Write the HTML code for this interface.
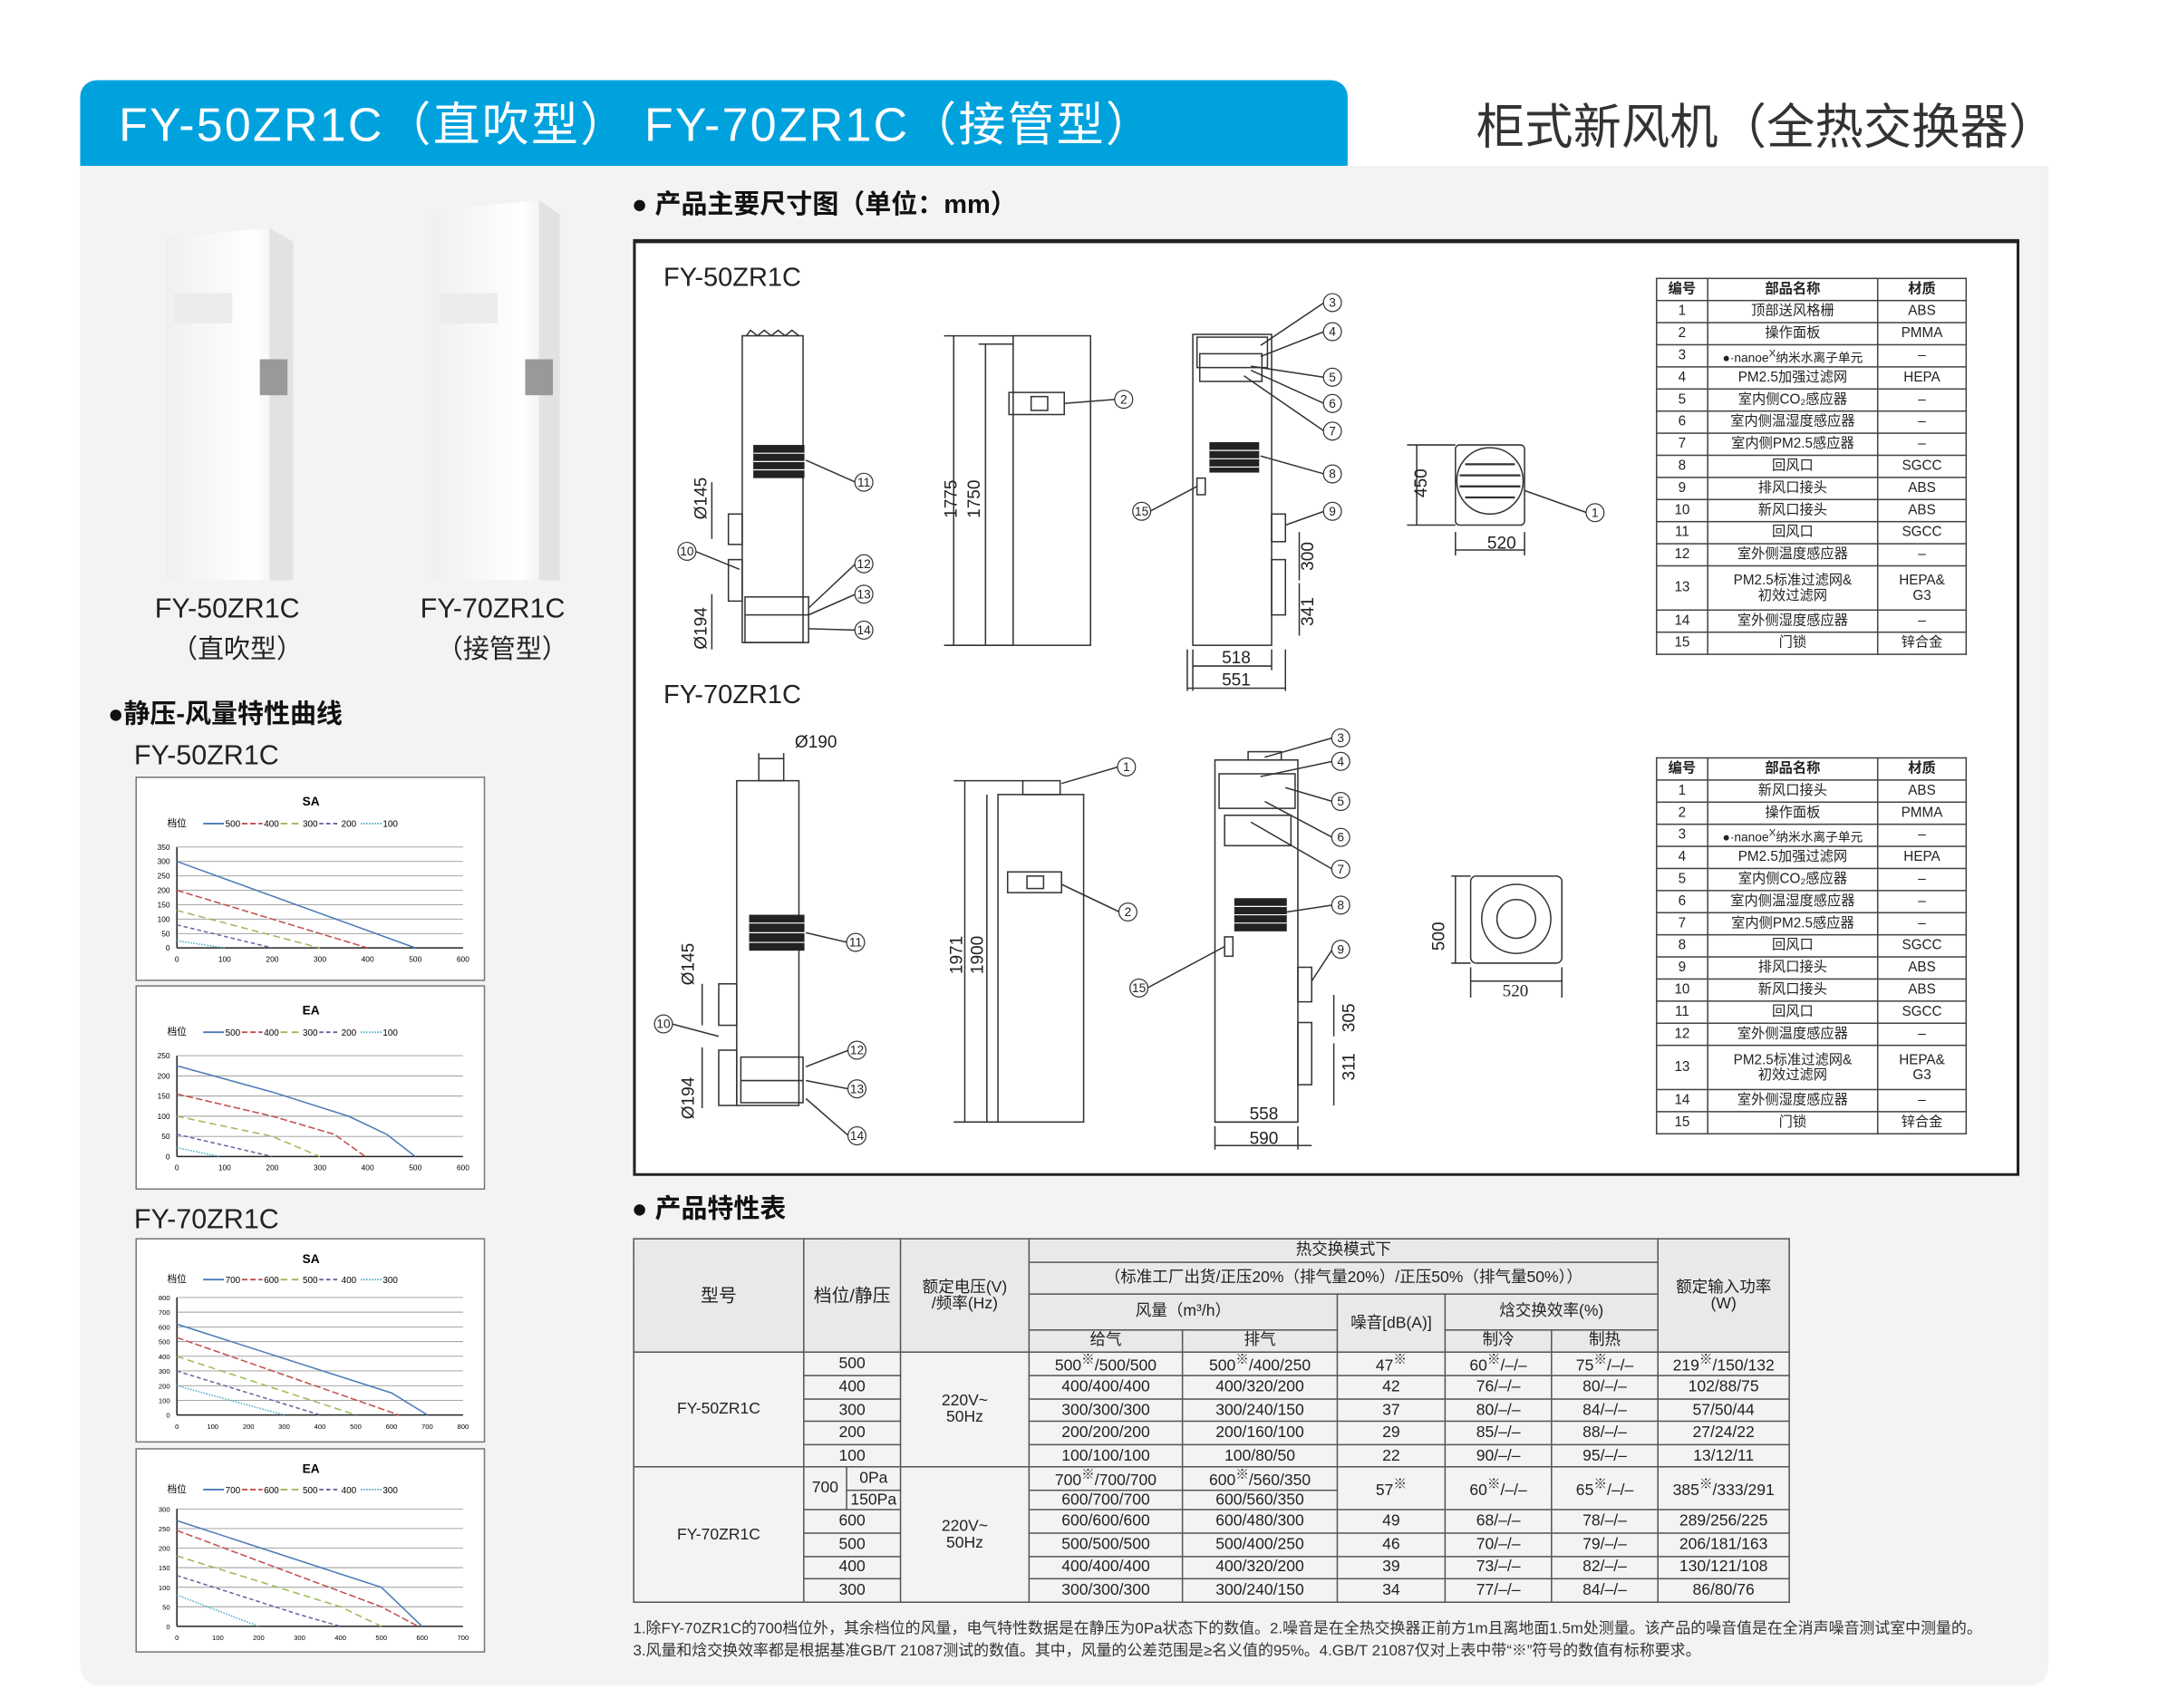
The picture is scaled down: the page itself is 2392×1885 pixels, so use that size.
<!DOCTYPE html>
<html><head><meta charset="utf-8">
<style>
*{margin:0;padding:0;box-sizing:border-box}
body{width:2392px;height:1884px;background:#fff;overflow:hidden;font-family:"Liberation Sans","Noto Sans CJK SC",sans-serif;color:#222}
#w{position:absolute;left:0;top:0;width:1570px;height:1236px;transform:scale(1.525);transform-origin:0 0}
.a{position:absolute;white-space:nowrap}
.hd{left:58px;top:58px;width:917px;height:62px;background:#00a2de;border-radius:12px 12px 0 0}
.bg{left:58px;top:120px;width:1424px;height:1100px;background:#f2f3f4;border-radius:0 0 14px 14px}
.sec{font-weight:bold;font-size:19px;color:#111}
.chart{position:absolute;background:#fff;border:1.5px solid #777}
table{border-collapse:collapse;table-layout:fixed}
.pt{position:absolute;font-size:10px;background:#fff}
.pt td{border:1px solid #444;text-align:center;height:16px;line-height:11px;padding:0}
.ft{position:absolute;left:458px;top:896px;font-size:11.5px}
.ft td{border:1px solid #555;text-align:center;padding:0;line-height:12px}
.ft .h td{background:#e8e9ea}
</style></head><body><div id="w">
<div class="a hd"></div>
<div class="a" style="left:86px;top:63px;font-size:34px;color:#fff;letter-spacing:1.5px">FY-50ZR1C（直吹型） FY-70ZR1C（接管型）</div>
<div class="a" style="left:1068px;top:64px;font-size:35px;color:#333">柜式新风机（全热交换器）</div>
<div class="a bg"></div>

<svg class="a" style="left:100px;top:140px" width="330" height="290">
<defs><linearGradient id="g1" x1="0" x2="1"><stop offset="0" stop-color="#f0f0f0"/><stop offset="0.7" stop-color="#fff"/><stop offset="1" stop-color="#e6e6e6"/></linearGradient></defs>
<polygon points="20,32 95,25 112,35 112,280 20,280" fill="url(#g1)"/>
<polygon points="95,25 112,35 112,280 95,280" fill="#e2e2e2"/>
<rect x="26" y="72" width="42" height="22" fill="#ececec"/>
<rect x="88" y="120" width="20" height="26" fill="#999"/>
<polygon points="212,12 290,5 305,15 305,280 212,280" fill="url(#g1)"/>
<polygon points="290,5 305,15 305,280 290,280" fill="#e2e2e2"/>
<rect x="218" y="72" width="42" height="22" fill="#ececec"/>
<rect x="280" y="120" width="20" height="26" fill="#999"/>
</svg>
<div class="a" style="left:112px;top:430px;font-size:20px">FY-50ZR1C</div>
<div class="a" style="left:124px;top:455px;font-size:19px">（直吹型）</div>
<div class="a" style="left:304px;top:430px;font-size:20px">FY-70ZR1C</div>
<div class="a" style="left:316px;top:455px;font-size:19px">（接管型）</div>

<div class="a sec" style="left:78px;top:502px">●静压-风量特性曲线</div>
<div class="a" style="left:97px;top:536px;font-size:20px">FY-50ZR1C</div>
<div class="a" style="left:97px;top:872px;font-size:20px">FY-70ZR1C</div>

<svg class="chart" style="left:98px;top:562px" width="253" height="148" font-size="5.5" font-family="Liberation Sans,Noto Sans CJK SC,sans-serif">
<text x="126" y="20" font-size="9" font-weight="bold" text-anchor="middle">SA</text>
<text x="22" y="35" font-size="7">档位</text>
<g stroke-width="1.2" fill="none"><line x1="48" y1="33" x2="63" y2="33" stroke="#4a7ab8"/><line x1="76" y1="33" x2="91" y2="33" stroke="#c0504d" stroke-dasharray="4 2"/><line x1="104" y1="33" x2="119" y2="33" stroke="#9bbb59" stroke-dasharray="5 3"/><line x1="132" y1="33" x2="147" y2="33" stroke="#7060a0" stroke-dasharray="3 2"/><line x1="162" y1="33" x2="177" y2="33" stroke="#4bacc6" stroke-dasharray="1 1"/></g>
<g font-size="6.5"><text x="64" y="35.5">500</text><text x="92" y="35.5">400</text><text x="120" y="35.5">300</text><text x="148" y="35.5">200</text><text x="178" y="35.5">100</text></g>
<g stroke="#999" stroke-width="0.6"><line x1="29" y1="50" x2="236" y2="50"/><line x1="29" y1="60.4" x2="236" y2="60.4"/><line x1="29" y1="70.9" x2="236" y2="70.9"/><line x1="29" y1="81.3" x2="236" y2="81.3"/><line x1="29" y1="91.7" x2="236" y2="91.7"/><line x1="29" y1="102.1" x2="236" y2="102.1"/><line x1="29" y1="112.6" x2="236" y2="112.6"/></g>
<line x1="29" y1="123" x2="236" y2="123" stroke="#222"/><line x1="29" y1="50" x2="29" y2="123" stroke="#222"/>
<g text-anchor="end"><text x="24" y="52">350</text><text x="24" y="62.4">300</text><text x="24" y="72.9">250</text><text x="24" y="83.3">200</text><text x="24" y="93.7">150</text><text x="24" y="104.1">100</text><text x="24" y="114.6">50</text><text x="24" y="125">0</text></g>
<g text-anchor="middle"><text x="29" y="133">0</text><text x="63.5" y="133">100</text><text x="98" y="133">200</text><text x="132.5" y="133">300</text><text x="167" y="133">400</text><text x="201.5" y="133">500</text><text x="236" y="133">600</text></g>
<g fill="none" stroke-width="1"><polyline points="29,60.4 201.5,123" stroke="#4a7ab8"/><polyline points="29,81.3 167,123" stroke="#c0504d" stroke-dasharray="5 2"/><polyline points="29,95.9 132.5,123" stroke="#9bbb59" stroke-dasharray="5 3"/><polyline points="29,106.3 98,123" stroke="#7060a0" stroke-dasharray="3 2"/><polyline points="29,117.8 63.5,123" stroke="#4bacc6" stroke-dasharray="1 1"/></g>
</svg>

<svg class="chart" style="left:98px;top:713px" width="253" height="148" font-size="5.5" font-family="Liberation Sans,Noto Sans CJK SC,sans-serif">
<text x="126" y="20" font-size="9" font-weight="bold" text-anchor="middle">EA</text>
<text x="22" y="35" font-size="7">档位</text>
<g stroke-width="1.2" fill="none"><line x1="48" y1="33" x2="63" y2="33" stroke="#4a7ab8"/><line x1="76" y1="33" x2="91" y2="33" stroke="#c0504d" stroke-dasharray="4 2"/><line x1="104" y1="33" x2="119" y2="33" stroke="#9bbb59" stroke-dasharray="5 3"/><line x1="132" y1="33" x2="147" y2="33" stroke="#7060a0" stroke-dasharray="3 2"/><line x1="162" y1="33" x2="177" y2="33" stroke="#4bacc6" stroke-dasharray="1 1"/></g>
<g font-size="6.5"><text x="64" y="35.5">500</text><text x="92" y="35.5">400</text><text x="120" y="35.5">300</text><text x="148" y="35.5">200</text><text x="178" y="35.5">100</text></g>
<g stroke="#999" stroke-width="0.6"><line x1="29" y1="50" x2="236" y2="50"/><line x1="29" y1="64.6" x2="236" y2="64.6"/><line x1="29" y1="79.2" x2="236" y2="79.2"/><line x1="29" y1="93.8" x2="236" y2="93.8"/><line x1="29" y1="108.4" x2="236" y2="108.4"/></g>
<line x1="29" y1="123" x2="236" y2="123" stroke="#222"/><line x1="29" y1="50" x2="29" y2="123" stroke="#222"/>
<g text-anchor="end"><text x="24" y="52">250</text><text x="24" y="66.6">200</text><text x="24" y="81.2">150</text><text x="24" y="95.8">100</text><text x="24" y="110.4">50</text><text x="24" y="125">0</text></g>
<g text-anchor="middle"><text x="29" y="133">0</text><text x="63.5" y="133">100</text><text x="98" y="133">200</text><text x="132.5" y="133">300</text><text x="167" y="133">400</text><text x="201.5" y="133">500</text><text x="236" y="133">600</text></g>
<g fill="none" stroke-width="1"><polyline points="29,57.3 98,76.3 153.2,93.8 180.8,106.9 201.5,123" stroke="#4a7ab8"/><polyline points="29,77.7 98,93.8 142.9,106.9 165.3,123" stroke="#c0504d" stroke-dasharray="5 2"/><polyline points="29,93.8 98,108.4 132.5,123" stroke="#9bbb59" stroke-dasharray="5 3"/><polyline points="29,106.9 98,123" stroke="#7060a0" stroke-dasharray="3 2"/><polyline points="29,116.6 60,123" stroke="#4bacc6" stroke-dasharray="1 1"/></g>
</svg>

<svg class="chart" style="left:98px;top:896px" width="253" height="148" font-size="5" font-family="Liberation Sans,Noto Sans CJK SC,sans-serif">
<text x="126" y="17" font-size="9" font-weight="bold" text-anchor="middle">SA</text>
<text x="22" y="31" font-size="7">档位</text>
<g stroke-width="1.2" fill="none"><line x1="48" y1="29" x2="63" y2="29" stroke="#4a7ab8"/><line x1="76" y1="29" x2="91" y2="29" stroke="#c0504d" stroke-dasharray="4 2"/><line x1="104" y1="29" x2="119" y2="29" stroke="#9bbb59" stroke-dasharray="5 3"/><line x1="132" y1="29" x2="147" y2="29" stroke="#7060a0" stroke-dasharray="3 2"/><line x1="162" y1="29" x2="177" y2="29" stroke="#4bacc6" stroke-dasharray="1 1"/></g>
<g font-size="6.5"><text x="64" y="31.5">700</text><text x="92" y="31.5">600</text><text x="120" y="31.5">500</text><text x="148" y="31.5">400</text><text x="178" y="31.5">300</text></g>
<g stroke="#999" stroke-width="0.6"><line x1="29" y1="42" x2="236" y2="42"/><line x1="29" y1="52.6" x2="236" y2="52.6"/><line x1="29" y1="63.3" x2="236" y2="63.3"/><line x1="29" y1="73.9" x2="236" y2="73.9"/><line x1="29" y1="84.5" x2="236" y2="84.5"/><line x1="29" y1="95.1" x2="236" y2="95.1"/><line x1="29" y1="105.8" x2="236" y2="105.8"/><line x1="29" y1="116.4" x2="236" y2="116.4"/></g>
<line x1="29" y1="127" x2="236" y2="127" stroke="#222"/><line x1="29" y1="42" x2="29" y2="127" stroke="#222"/>
<g text-anchor="end"><text x="24" y="44">800</text><text x="24" y="54.6">700</text><text x="24" y="65.3">600</text><text x="24" y="75.9">500</text><text x="24" y="86.5">400</text><text x="24" y="97.1">300</text><text x="24" y="107.8">200</text><text x="24" y="118.4">100</text><text x="24" y="129">0</text></g>
<g text-anchor="middle"><text x="29" y="137">0</text><text x="54.9" y="137">100</text><text x="80.8" y="137">200</text><text x="106.6" y="137">300</text><text x="132.5" y="137">400</text><text x="158.4" y="137">500</text><text x="184.3" y="137">600</text><text x="210.1" y="137">700</text><text x="236" y="137">800</text></g>
<g fill="none" stroke-width="1"><polyline points="29,61.3 184.4,111.1 210.3,127" stroke="#4a7ab8"/><polyline points="29,71 189.6,127" stroke="#c0504d" stroke-dasharray="5 2"/><polyline points="29,84.6 158.5,127" stroke="#9bbb59" stroke-dasharray="5 3"/><polyline points="29,95.2 132.6,127" stroke="#7060a0" stroke-dasharray="3 2"/><polyline points="29,105.8 106.7,127" stroke="#4bacc6" stroke-dasharray="1 1"/></g>
</svg>

<svg class="chart" style="left:98px;top:1048px" width="253" height="148" font-size="5" font-family="Liberation Sans,Noto Sans CJK SC,sans-serif">
<text x="126" y="17" font-size="9" font-weight="bold" text-anchor="middle">EA</text>
<text x="22" y="31" font-size="7">档位</text>
<g stroke-width="1.2" fill="none"><line x1="48" y1="29" x2="63" y2="29" stroke="#4a7ab8"/><line x1="76" y1="29" x2="91" y2="29" stroke="#c0504d" stroke-dasharray="4 2"/><line x1="104" y1="29" x2="119" y2="29" stroke="#9bbb59" stroke-dasharray="5 3"/><line x1="132" y1="29" x2="147" y2="29" stroke="#7060a0" stroke-dasharray="3 2"/><line x1="162" y1="29" x2="177" y2="29" stroke="#4bacc6" stroke-dasharray="1 1"/></g>
<g font-size="6.5"><text x="64" y="31.5">700</text><text x="92" y="31.5">600</text><text x="120" y="31.5">500</text><text x="148" y="31.5">400</text><text x="178" y="31.5">300</text></g>
<g stroke="#999" stroke-width="0.6"><line x1="29" y1="43" x2="236" y2="43"/><line x1="29" y1="57.2" x2="236" y2="57.2"/><line x1="29" y1="71.3" x2="236" y2="71.3"/><line x1="29" y1="85.5" x2="236" y2="85.5"/><line x1="29" y1="99.7" x2="236" y2="99.7"/><line x1="29" y1="113.8" x2="236" y2="113.8"/></g>
<line x1="29" y1="128" x2="236" y2="128" stroke="#222"/><line x1="29" y1="43" x2="29" y2="128" stroke="#222"/>
<g text-anchor="end"><text x="24" y="45">300</text><text x="24" y="59.2">250</text><text x="24" y="73.3">200</text><text x="24" y="87.5">150</text><text x="24" y="101.7">100</text><text x="24" y="115.8">50</text><text x="24" y="130">0</text></g>
<g text-anchor="middle"><text x="29" y="138">0</text><text x="58.6" y="138">100</text><text x="88.1" y="138">200</text><text x="117.7" y="138">300</text><text x="147.3" y="138">400</text><text x="176.9" y="138">500</text><text x="206.4" y="138">600</text><text x="236" y="138">700</text></g>
<g fill="none" stroke-width="1"><polyline points="29,51.5 176.9,99.7 206.4,128" stroke="#4a7ab8"/><polyline points="29,58.6 176.9,113.8 203.5,128" stroke="#c0504d" stroke-dasharray="5 2"/><polyline points="29,77 147.3,113.8 176.9,128" stroke="#9bbb59" stroke-dasharray="5 3"/><polyline points="29,91.2 117.7,119.5 147.3,128" stroke="#7060a0" stroke-dasharray="3 2"/><polyline points="29,105.3 88.1,128" stroke="#4bacc6" stroke-dasharray="1 1"/></g>
</svg>

<div class="a sec" style="left:457px;top:133px">● 产品主要尺寸图（单位：mm）</div>
<div class="a" style="left:458px;top:173px;width:1003px;height:678px;background:#fff;border:2px solid #222;border-top-width:3px"></div>
<div class="a" style="left:480px;top:191px;font-size:19px">FY-50ZR1C</div>
<div class="a" style="left:480px;top:493px;font-size:19px">FY-70ZR1C</div>

<svg class="a" style="left:0;top:0" width="1546" height="1218" font-family="Liberation Sans,sans-serif" font-size="12">
<g fill="none" stroke="#333" stroke-width="1">
<rect x="537" y="243" width="44" height="222"/><polyline points="540,243 543,239 548,243 553,239 558,243 563,239 568,243 573,239 578,243"/>
<rect x="527" y="372" width="10" height="22"/><rect x="527" y="405" width="10" height="30"/>
<rect x="539" y="432" width="46" height="33"/><line x1="539" y1="445" x2="585" y2="445"/>
<line x1="515" y1="349" x2="515" y2="390"/><line x1="515" y1="430" x2="515" y2="470"/>
<rect x="733" y="243" width="56" height="224"/><rect x="730" y="284" width="40" height="16"/><rect x="746" y="287" width="12" height="10"/>
<line x1="690" y1="243" x2="690" y2="467"/><line x1="713" y1="249" x2="713" y2="467"/>
<line x1="683" y1="243" x2="733" y2="243"/><line x1="683" y1="467" x2="733" y2="467"/><line x1="708" y1="249" x2="733" y2="249"/>
<rect x="863" y="242" width="57" height="225"/><rect x="866" y="244" width="51" height="22"/><rect x="868" y="256" width="45" height="20"/>
<rect x="866" y="346" width="6" height="12"/>
<rect x="920" y="372" width="10" height="20"/><rect x="920" y="405" width="10" height="40"/>
<line x1="940" y1="385" x2="940" y2="420"/><line x1="940" y1="422" x2="940" y2="460"/>
<line x1="863" y1="470" x2="863" y2="500"/><line x1="920" y1="470" x2="920" y2="485"/><line x1="930" y1="470" x2="930" y2="500"/><line x1="859" y1="470" x2="859" y2="500"/>
<line x1="863" y1="482" x2="920" y2="482"/><line x1="859" y1="498" x2="930" y2="498"/>
<rect x="1053" y="322" width="50" height="58" rx="3"/><circle cx="1078" cy="348" r="24"/>
<line x1="1018" y1="322" x2="1053" y2="322"/><line x1="1018" y1="380" x2="1053" y2="380"/><line x1="1025" y1="322" x2="1025" y2="380"/>
<line x1="1053" y1="385" x2="1053" y2="402"/><line x1="1103" y1="385" x2="1103" y2="402"/><line x1="1053" y1="398" x2="1103" y2="398"/>
<rect x="533" y="565" width="45" height="235"/><rect x="549" y="549" width="18" height="16"/><line x1="549" y1="545" x2="549" y2="549"/><line x1="567" y1="545" x2="567" y2="549"/>
<rect x="520" y="712" width="13" height="30"/><rect x="520" y="760" width="13" height="40"/>
<rect x="536" y="765" width="45" height="33"/><line x1="536" y1="782" x2="581" y2="782"/>
<line x1="508" y1="712" x2="508" y2="742"/><line x1="508" y1="758" x2="508" y2="802"/>
<rect x="722" y="575" width="62" height="237"/><rect x="740" y="565" width="27" height="10"/><rect x="729" y="631" width="39" height="15"/><rect x="743" y="634" width="12" height="9"/>
<line x1="698" y1="565" x2="698" y2="812"/><line x1="714" y1="575" x2="714" y2="812"/>
<line x1="690" y1="565" x2="740" y2="565"/><line x1="690" y1="812" x2="722" y2="812"/>
<rect x="879" y="550" width="60" height="262"/><rect x="903" y="544" width="24" height="6"/><rect x="882" y="560" width="55" height="25"/><rect x="886" y="590" width="48" height="22"/>
<rect x="886" y="678" width="6" height="14"/>
<rect x="939" y="700" width="10" height="25"/><rect x="939" y="740" width="10" height="45"/>
<line x1="965" y1="720" x2="965" y2="750"/><line x1="965" y1="755" x2="965" y2="800"/>
<line x1="879" y1="815" x2="879" y2="832"/><line x1="939" y1="815" x2="939" y2="832"/><line x1="879" y1="812" x2="939" y2="812"/><line x1="879" y1="829" x2="949" y2="829"/>
<rect x="1064" y="634" width="66" height="63" rx="4"/><circle cx="1097" cy="665" r="25"/><circle cx="1097" cy="665" r="14"/>
<line x1="1050" y1="634" x2="1064" y2="634"/><line x1="1050" y1="697" x2="1064" y2="697"/><line x1="1053" y1="634" x2="1053" y2="697"/>
<line x1="1064" y1="700" x2="1064" y2="722"/><line x1="1130" y1="700" x2="1130" y2="722"/><line x1="1064" y1="710" x2="1130" y2="710"/>
<line x1="583" y1="333" x2="619" y2="349"/><line x1="503" y1="399" x2="535" y2="412"/><line x1="585" y1="440" x2="619" y2="408"/><line x1="585" y1="445" x2="619" y2="430"/><line x1="585" y1="455" x2="619" y2="456"/>
<line x1="770" y1="292" x2="807" y2="289"/>
<line x1="912" y1="250" x2="958" y2="219"/><line x1="912" y1="258" x2="958" y2="240"/><line x1="905" y1="265" x2="958" y2="273"/><line x1="905" y1="268" x2="958" y2="292"/><line x1="900" y1="272" x2="958" y2="312"/><line x1="912" y1="330" x2="958" y2="343"/><line x1="930" y1="380" x2="958" y2="370"/><line x1="866" y1="352" x2="832" y2="370"/>
<line x1="1103" y1="355" x2="1148" y2="371"/>
<line x1="583" y1="675" x2="613" y2="682"/><line x1="486" y1="741" x2="520" y2="750"/><line x1="583" y1="772" x2="614" y2="760"/><line x1="583" y1="782" x2="614" y2="788"/><line x1="583" y1="795" x2="614" y2="822"/>
<line x1="768" y1="567" x2="809" y2="555"/><line x1="768" y1="640" x2="810" y2="660"/>
<line x1="915" y1="548" x2="964" y2="534"/><line x1="912" y1="562" x2="964" y2="551"/><line x1="930" y1="570" x2="964" y2="580"/><line x1="915" y1="580" x2="964" y2="606"/><line x1="905" y1="595" x2="964" y2="629"/><line x1="931" y1="660" x2="964" y2="655"/><line x1="949" y1="710" x2="964" y2="687"/><line x1="886" y1="685" x2="830" y2="715"/>
</g>
<g fill="#222">
<rect x="545" y="322" width="37" height="24"/><rect x="875" y="320" width="36" height="22"/>
<rect x="542" y="662" width="40" height="26"/><rect x="893" y="650" width="38" height="24"/>
</g>
<g stroke="#fff" stroke-width="0.8"><line x1="545" y1="328" x2="582" y2="328"/><line x1="545" y1="334" x2="582" y2="334"/><line x1="545" y1="340" x2="582" y2="340"/><line x1="875" y1="326" x2="911" y2="326"/><line x1="875" y1="332" x2="911" y2="332"/><line x1="875" y1="338" x2="911" y2="338"/><line x1="542" y1="668" x2="582" y2="668"/><line x1="542" y1="675" x2="582" y2="675"/><line x1="542" y1="682" x2="582" y2="682"/><line x1="893" y1="656" x2="931" y2="656"/><line x1="893" y1="662" x2="931" y2="662"/><line x1="893" y1="668" x2="931" y2="668"/></g>
<g stroke="#333" stroke-width="1.5"><line x1="1060" y1="336" x2="1096" y2="336"/><line x1="1056" y1="344" x2="1100" y2="344"/><line x1="1056" y1="352" x2="1100" y2="352"/><line x1="1060" y1="360" x2="1096" y2="360"/></g>
<g fill="#fff" stroke="#333" stroke-width="0.8">
<circle cx="625" cy="349" r="6.5"/><circle cx="497" cy="399" r="6.5"/><circle cx="625" cy="408" r="6.5"/><circle cx="625" cy="430" r="6.5"/><circle cx="625" cy="456" r="6.5"/><circle cx="813" cy="289" r="6.5"/>
<circle cx="964" cy="219" r="6.5"/><circle cx="964" cy="240" r="6.5"/><circle cx="964" cy="273" r="6.5"/><circle cx="964" cy="292" r="6.5"/><circle cx="964" cy="312" r="6.5"/><circle cx="964" cy="343" r="6.5"/><circle cx="964" cy="370" r="6.5"/><circle cx="826" cy="370" r="6.5"/><circle cx="1154" cy="371" r="6.5"/>
<circle cx="619" cy="682" r="6.5"/><circle cx="480" cy="741" r="6.5"/><circle cx="620" cy="760" r="6.5"/><circle cx="620" cy="788" r="6.5"/><circle cx="620" cy="822" r="6.5"/><circle cx="815" cy="555" r="6.5"/><circle cx="816" cy="660" r="6.5"/>
<circle cx="970" cy="534" r="6.5"/><circle cx="970" cy="551" r="6.5"/><circle cx="970" cy="580" r="6.5"/><circle cx="970" cy="606" r="6.5"/><circle cx="970" cy="629" r="6.5"/><circle cx="970" cy="655" r="6.5"/><circle cx="970" cy="687" r="6.5"/><circle cx="824" cy="715" r="6.5"/>
</g>
<g font-size="9" text-anchor="middle" fill="#222">
<text x="625" y="352">11</text><text x="497" y="402">10</text><text x="625" y="411">12</text><text x="625" y="433">13</text><text x="625" y="459">14</text><text x="813" y="292">2</text>
<text x="964" y="222">3</text><text x="964" y="243">4</text><text x="964" y="276">5</text><text x="964" y="295">6</text><text x="964" y="315">7</text><text x="964" y="346">8</text><text x="964" y="373">9</text><text x="826" y="373">15</text><text x="1154" y="374">1</text>
<text x="619" y="685">11</text><text x="480" y="744">10</text><text x="620" y="763">12</text><text x="620" y="791">13</text><text x="620" y="825">14</text><text x="815" y="558">1</text><text x="816" y="663">2</text>
<text x="970" y="537">3</text><text x="970" y="554">4</text><text x="970" y="583">5</text><text x="970" y="609">6</text><text x="970" y="632">7</text><text x="970" y="658">8</text><text x="970" y="690">9</text><text x="824" y="718">15</text>
</g>
<g font-size="12.5" fill="#222">
<text transform="translate(511,376) rotate(-90)">Ø145</text><text transform="translate(511,470) rotate(-90)">Ø194</text>
<text transform="translate(692,375) rotate(-90)">1775</text><text transform="translate(709,375) rotate(-90)">1750</text>
<text transform="translate(950,413) rotate(-90)">300</text><text transform="translate(950,453) rotate(-90)">341</text>
<text x="884" y="480">518</text><text x="884" y="496">551</text>
<text transform="translate(1032,360) rotate(-90)">450</text><text x="1076" y="397">520</text>
<text x="575" y="541">Ø190</text>
<text transform="translate(502,713) rotate(-90)">Ø145</text><text transform="translate(502,810) rotate(-90)">Ø194</text>
<text transform="translate(696,705) rotate(-90)">1971</text><text transform="translate(711,705) rotate(-90)">1900</text>
<text transform="translate(980,747) rotate(-90)">305</text><text transform="translate(980,782) rotate(-90)">311</text>
<text x="904" y="810">558</text><text x="904" y="828">590</text>
<text transform="translate(1045,688) rotate(-90)">500</text><text x="1087" y="721" font-family="Liberation Serif,serif">520</text>
</g>
</svg>

<table class="pt" style="left:1198px;top:201px;width:224px">
<col style="width:37px"><col style="width:123px"><col style="width:64px">
<tr style="font-weight:bold"><td>编号</td><td>部品名称</td><td>材质</td></tr>
<tr><td>1</td><td>顶部送风格栅</td><td>ABS</td></tr>
<tr><td>2</td><td>操作面板</td><td>PMMA</td></tr>
<tr><td>3</td><td style="font-size:9px">●·nanoe<sup>X</sup>纳米水离子单元</td><td>–</td></tr>
<tr><td>4</td><td>PM2.5加强过滤网</td><td>HEPA</td></tr>
<tr><td>5</td><td>室内侧CO₂感应器</td><td>–</td></tr>
<tr><td>6</td><td>室内侧温湿度感应器</td><td>–</td></tr>
<tr><td>7</td><td>室内侧PM2.5感应器</td><td>–</td></tr>
<tr><td>8</td><td>回风口</td><td>SGCC</td></tr>
<tr><td>9</td><td>排风口接头</td><td>ABS</td></tr>
<tr><td>10</td><td>新风口接头</td><td>ABS</td></tr>
<tr><td>11</td><td>回风口</td><td>SGCC</td></tr>
<tr><td>12</td><td>室外侧温度感应器</td><td>–</td></tr>
<tr><td style="height:32px">13</td><td>PM2.5标准过滤网&amp;<br>初效过滤网</td><td>HEPA&amp;<br>G3</td></tr>
<tr><td>14</td><td>室外侧湿度感应器</td><td>–</td></tr>
<tr><td>15</td><td>门锁</td><td>锌合金</td></tr>
</table>
<table class="pt" style="left:1198px;top:548px;width:224px">
<col style="width:37px"><col style="width:123px"><col style="width:64px">
<tr style="font-weight:bold"><td>编号</td><td>部品名称</td><td>材质</td></tr>
<tr><td>1</td><td>新风口接头</td><td>ABS</td></tr>
<tr><td>2</td><td>操作面板</td><td>PMMA</td></tr>
<tr><td>3</td><td style="font-size:9px">●·nanoe<sup>X</sup>纳米水离子单元</td><td>–</td></tr>
<tr><td>4</td><td>PM2.5加强过滤网</td><td>HEPA</td></tr>
<tr><td>5</td><td>室内侧CO₂感应器</td><td>–</td></tr>
<tr><td>6</td><td>室内侧温湿度感应器</td><td>–</td></tr>
<tr><td>7</td><td>室内侧PM2.5感应器</td><td>–</td></tr>
<tr><td>8</td><td>回风口</td><td>SGCC</td></tr>
<tr><td>9</td><td>排风口接头</td><td>ABS</td></tr>
<tr><td>10</td><td>新风口接头</td><td>ABS</td></tr>
<tr><td>11</td><td>回风口</td><td>SGCC</td></tr>
<tr><td>12</td><td>室外侧温度感应器</td><td>–</td></tr>
<tr><td style="height:32px">13</td><td>PM2.5标准过滤网&amp;<br>初效过滤网</td><td>HEPA&amp;<br>G3</td></tr>
<tr><td>14</td><td>室外侧湿度感应器</td><td>–</td></tr>
<tr><td>15</td><td>门锁</td><td>锌合金</td></tr>
</table>

<div class="a sec" style="left:457px;top:860px">● 产品特性表</div>
<table class="ft" style="width:836px">
<col style="width:123px"><col style="width:31px"><col style="width:39px"><col style="width:93px"><col style="width:111px"><col style="width:112px"><col style="width:78px"><col style="width:77px"><col style="width:77px"><col style="width:95px">
<tr class="h" style="height:16.5px"><td rowspan="4" style="font-size:13px">型号</td><td rowspan="4" colspan="2" style="font-size:13px">档位/静压</td><td rowspan="4">额定电压(V)<br>/频率(Hz)</td><td colspan="5">热交换模式下</td><td rowspan="4">额定输入功率<br>(W)</td></tr>
<tr class="h" style="height:23.5px"><td colspan="5">（标准工厂出货/正压20%（排气量20%）/正压50%（排气量50%））</td></tr>
<tr class="h" style="height:25.7px"><td colspan="2">风量（m³/h）</td><td rowspan="2">噪音[dB(A)]</td><td colspan="2">焓交换效率(%)</td></tr>
<tr class="h" style="height:16.6px"><td>给气</td><td>排气</td><td>制冷</td><td>制热</td></tr>
<tr style="height:16.9px"><td rowspan="5">FY-50ZR1C</td><td colspan="2">500</td><td rowspan="5">220V~<br>50Hz</td><td>500<sup>※</sup>/500/500</td><td>500<sup>※</sup>/400/250</td><td>47<sup>※</sup></td><td>60<sup>※</sup>/–/–</td><td>75<sup>※</sup>/–/–</td><td>219<sup>※</sup>/150/132</td></tr>
<tr style="height:16.6px"><td colspan="2">400</td><td>400/400/400</td><td>400/320/200</td><td>42</td><td>76/–/–</td><td>80/–/–</td><td>102/88/75</td></tr>
<tr style="height:16.5px"><td colspan="2">300</td><td>300/300/300</td><td>300/240/150</td><td>37</td><td>80/–/–</td><td>84/–/–</td><td>57/50/44</td></tr>
<tr style="height:16.7px"><td colspan="2">200</td><td>200/200/200</td><td>200/160/100</td><td>29</td><td>85/–/–</td><td>88/–/–</td><td>27/24/22</td></tr>
<tr style="height:16.4px"><td colspan="2">100</td><td>100/100/100</td><td>100/80/50</td><td>22</td><td>90/–/–</td><td>95/–/–</td><td>13/12/11</td></tr>
<tr style="height:15.8px"><td rowspan="6">FY-70ZR1C</td><td rowspan="2">700</td><td>0Pa</td><td rowspan="6">220V~<br>50Hz</td><td>700<sup>※</sup>/700/700</td><td>600<sup>※</sup>/560/350</td><td rowspan="2">57<sup>※</sup></td><td rowspan="2">60<sup>※</sup>/–/–</td><td rowspan="2">65<sup>※</sup>/–/–</td><td rowspan="2">385<sup>※</sup>/333/291</td></tr>
<tr style="height:14.2px"><td>150Pa</td><td>600/700/700</td><td>600/560/350</td></tr>
<tr style="height:16.6px"><td colspan="2">600</td><td>600/600/600</td><td>600/480/300</td><td>49</td><td>68/–/–</td><td>78/–/–</td><td>289/256/225</td></tr>
<tr style="height:16.7px"><td colspan="2">500</td><td>500/500/500</td><td>500/400/250</td><td>46</td><td>70/–/–</td><td>79/–/–</td><td>206/181/163</td></tr>
<tr style="height:16.5px"><td colspan="2">400</td><td>400/400/400</td><td>400/320/200</td><td>39</td><td>73/–/–</td><td>82/–/–</td><td>130/121/108</td></tr>
<tr style="height:16.8px"><td colspan="2">300</td><td>300/300/300</td><td>300/240/150</td><td>34</td><td>77/–/–</td><td>84/–/–</td><td>86/80/76</td></tr>
</table>
<div class="a" style="left:458px;top:1170px;font-size:11.1px;color:#333">1.除FY-70ZR1C的700档位外，其余档位的风量，电气特性数据是在静压为0Pa状态下的数值。2.噪音是在全热交换器正前方1m且离地面1.5m处测量。该产品的噪音值是在全消声噪音测试室中测量的。</div>
<div class="a" style="left:458px;top:1186px;font-size:11.1px;color:#333">3.风量和焓交换效率都是根据基准GB/T 21087测试的数值。其中，风量的公差范围是≥名义值的95%。4.GB/T 21087仅对上表中带“※”符号的数值有标称要求。</div>
</div></body></html>
